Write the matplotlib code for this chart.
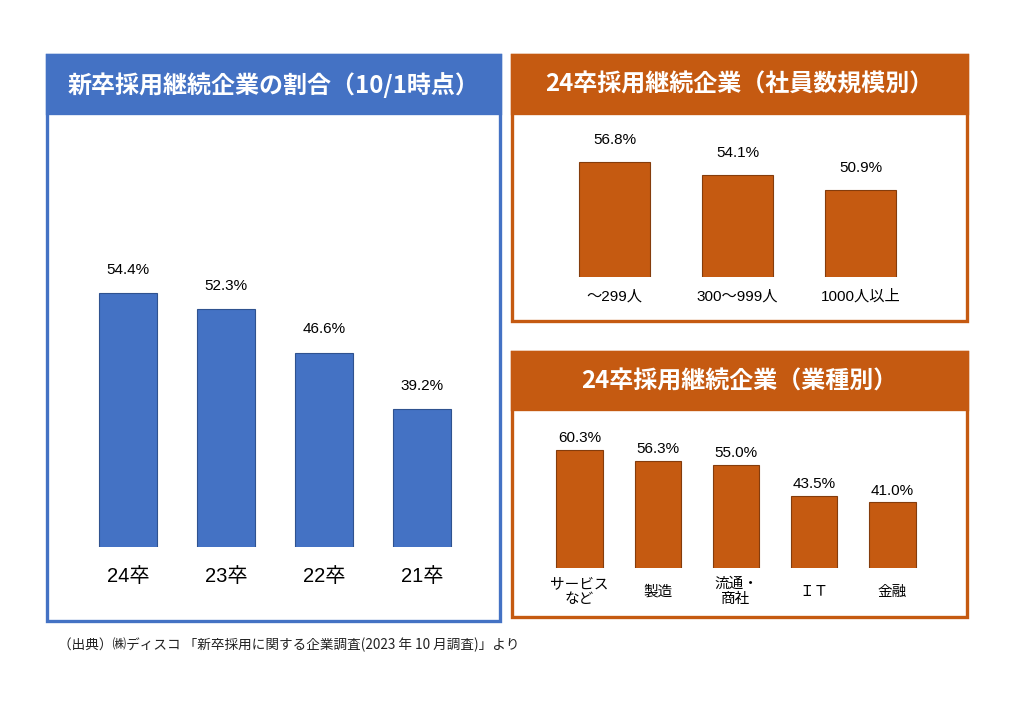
import matplotlib
matplotlib.use("Agg")
import matplotlib.pyplot as plt
from matplotlib.patches import Rectangle

plt.rcParams['font.family'] = ['Liberation Sans', 'Noto Sans CJK JP']

# data
years = ['24卒', '23卒', '22卒', '21卒']
rate_by_year = [54.4, 52.3, 46.6, 39.2]

size_labels = ['～299人', '300～999人', '1000人以上']
rate_by_size = [56.8, 54.1, 50.9]

industry_labels = ['サービス\nなど', '製造', '流通・\n商社', 'ＩＴ', '金融']
rate_by_industry = [60.3, 56.3, 55.0, 43.5, 41.0]

titles = ['新卒採用継続企業の割合（10/1時点）',
          '24卒採用継続企業（社員数規模別）',
          '24卒採用継続企業（業種別）']
source = '（出典）㈱ディスコ 「新卒採用に関する企業調査(2023 年 10 月調査)」より'

BLUE = '#4472C4'
BLUE_EDGE = '#2F528F'
ORANGE = '#C55A11'
ORANGE_EDGE = '#843C0C'

W, H = 1024, 724
fig = plt.figure(figsize=(W / 100, H / 100), dpi=100)
fig.patch.set_facecolor('white')

# overlay in pixel units for the panel frames
bg = fig.add_axes([0, 0, 1, 1])
bg.set_xlim(0, W)
bg.set_ylim(H, 0)
bg.axis('off')


def panel(x0, y0, x1, y1, head, color, title):
    bg.add_patch(Rectangle((x0, y0), x1 - x0, y1 - y0, facecolor='white',
                           edgecolor=color, linewidth=2.4))
    bg.add_patch(Rectangle((x0, y0), x1 - x0, head - y0, facecolor=color,
                           edgecolor=color, linewidth=2.4))
    bg.text((x0 + x1) / 2, (y0 + head) / 2 + 1, title, color='white',
            fontsize=17.3, fontweight='bold', family=['Noto Sans CJK JP'],
            ha='center', va='center')


panel(47, 55, 500, 621, 113, BLUE, titles[0])
panel(512, 55, 967, 321, 113, ORANGE, titles[1])
panel(512, 352, 967, 617, 409, ORANGE, titles[2])

bg.text(58, 645, source, fontsize=9.8, color='#222222', ha='left', va='center',
        family=['Noto Sans CJK JP'])


def px_axes(x0, y0, x1, y1):
    ax = fig.add_axes([x0 / W, 1 - y1 / H, (x1 - x0) / W, (y1 - y0) / H])
    ax.patch.set_alpha(0)
    for s in ax.spines.values():
        s.set_visible(False)
    ax.set_yticks([])
    return ax


def bar_chart(ax, labels, values, color, edge, width, xlim, ylim,
              val_size, val_pad, lab_size, lab_pad):
    x = range(len(values))
    bars = ax.bar(x, values, width=width, color=color, edgecolor=edge,
                  linewidth=0.8)
    ax.bar_label(bars, labels=[f'{v:.1f}%' for v in values],
                 padding=val_pad, fontsize=val_size)
    ax.set_xlim(*xlim)
    ax.set_ylim(*ylim)
    ax.set_xticks(list(x))
    ax.set_xticklabels(labels, fontsize=lab_size, linespacing=1.15)
    ax.tick_params(axis='x', length=0, pad=lab_pad)
    for t in ax.get_xticklabels():
        t.set_va('center')


# left: by graduation year
ax1 = px_axes(59.4, 130, 490.6, 547)
bar_chart(ax1, years, rate_by_year, BLUE, BLUE_EDGE, 0.59,
          (-0.7, 3.7), (21.2, 21.2 + 417 / 7.64), 11, 12, 14.5, 21)

# right top: by company size
ax2 = px_axes(522.25, 120, 952.75, 277)
bar_chart(ax2, size_labels, rate_by_size, ORANGE, ORANGE_EDGE, 0.58,
          (-0.75, 2.75), (32.6, 32.6 + 157 / 4.74), 11, 11, 11, 14)

# right bottom: by industry
ax3 = px_axes(520.8, 415, 951.2, 568)
bar_chart(ax3, industry_labels, rate_by_industry, ORANGE, ORANGE_EDGE, 0.594,
          (-0.75, 4.75), (16.7, 16.7 + 153 / 2.70), 11, 3.5, 10.5, 17)

fig.savefig('out.png', dpi=100, facecolor='white')
